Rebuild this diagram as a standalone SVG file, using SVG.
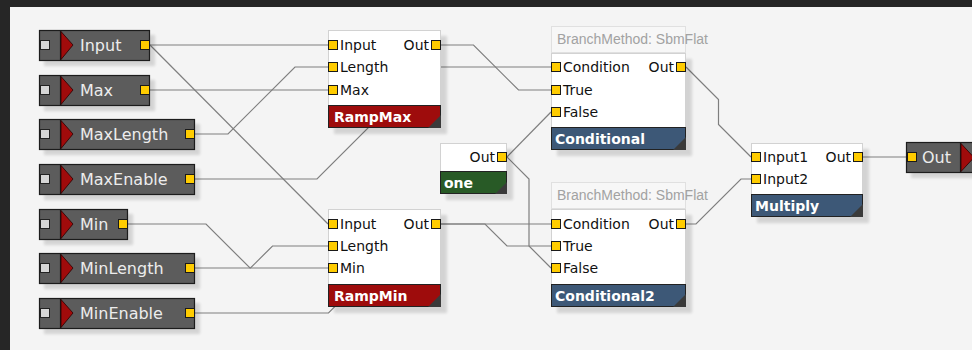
<svg xmlns="http://www.w3.org/2000/svg" width="972" height="350" viewBox="0 0 972 350">
  <style>
    .frame { fill: #262626; }
    .panel { fill: #f4f4f4; }
    .shd { fill: #000; opacity: 0.13; filter: url(#soft); }
    .src { fill: #5c5c5c; stroke: #1c1c1c; stroke-width: 1.2; }
    .inp { fill: #d6d6d6; stroke: #222; stroke-width: 1; }
    .div { stroke: #1c1c1c; stroke-width: 1.2; }
    .tri { fill: #a00b0b; stroke: #2a0000; stroke-width: 0.8; }
    .srcl { font-family: "DejaVu Sans", sans-serif; font-size: 16px; fill: #ececec; }
    .port { fill: #ffcc00; stroke: #1a1a1a; stroke-width: 1; }
    .body { fill: #ffffff; stroke: #d2d2d2; stroke-width: 1; }
    .hdr { fill: #f7f7f7; stroke: #e0e0e0; stroke-width: 1; }
    .hdrl { font-family: "Liberation Sans", Arial, sans-serif; font-size: 14px; fill: #a2a2a2; }
    .pl { font-family: "DejaVu Sans", sans-serif; font-size: 14px; fill: #111; }
    .pr { font-family: "DejaVu Sans", sans-serif; font-size: 14px; fill: #111; text-anchor: end; }
    .ttl { stroke: #222; stroke-width: 1; }
    .red { fill: #9e0c0c; }
    .blue { fill: #3d5877; }
    .green { fill: #285a26; }
    .tl { font-family: "DejaVu Sans", sans-serif; font-weight: bold; font-size: 14px; fill: #ffffff; }
    .grip { fill: #3a3a3a; }
    .wire { fill: none; stroke: #7e7e7e; stroke-width: 1.2; }
  </style>
  <defs>
    <filter id="soft" x="-10%" y="-10%" width="120%" height="130%">
      <feGaussianBlur stdDeviation="1.6"/>
    </filter>
  </defs>

  <!-- canvas -->
  <rect class="frame" x="0" y="0" width="972" height="350"/>
  <rect class="panel" x="10" y="7" width="962" height="343"/>

  <!-- connectors -->
  <g id="connectors">
    <path class="wire" d="M150,45 H328"/>
    <path class="wire" d="M150,45 L328,224"/>
    <path class="wire" d="M150,90 H328"/>
    <path class="wire" d="M195,134 H228 L295,67 H328"/>
    <path class="wire" d="M195,179 H317 L429,67 H551"/>
    <path class="wire" d="M128,224 H206 L250,268 H328"/>
    <path class="wire" d="M195,268 H250.5 L272.5,246 H328"/>
    <path class="wire" d="M195,313 H328.5 L417.5,224 H551"/>
    <path class="wire" d="M441,45 H473.5 L518.5,90 H551"/>
    <path class="wire" d="M441,224 H485 L507,246 H551"/>
    <path class="wire" d="M507,157 L551,112"/>
    <path class="wire" d="M507,157 L529,179 V246 L551,268"/>
    <path class="wire" d="M686,67 L718.5,99.5 V124.5 L751,157"/>
    <path class="wire" d="M686,224 H696 L741,179 H751"/>
    <path class="wire" d="M863,157 H907"/>
  </g>

  <!-- source nodes -->
  <g id="src-input">
    <rect class="shd" x="44" y="35" width="111" height="31"/>
    <rect class="src" x="39.5" y="30.5" width="110" height="30"/>
    <rect class="inp" x="40.5" y="40.5" width="9" height="9"/>
    <line class="div" x1="60.5" y1="30.5" x2="60.5" y2="60.5"/>
    <path class="tri" d="M61,31.5 L73,45 L61,59.5 Z"/>
    <text class="srcl" x="80" y="51">Input</text>
    <rect class="port" x="140.5" y="40.5" width="9" height="9"/>
  </g>
  <g id="src-max">
    <rect class="shd" x="44" y="80" width="111" height="31"/>
    <rect class="src" x="39.5" y="75.5" width="110" height="30"/>
    <rect class="inp" x="40.5" y="85.5" width="9" height="9"/>
    <line class="div" x1="60.5" y1="75.5" x2="60.5" y2="105.5"/>
    <path class="tri" d="M61,76.5 L73,90 L61,104.5 Z"/>
    <text class="srcl" x="80" y="96">Max</text>
    <rect class="port" x="140.5" y="85.5" width="9" height="9"/>
  </g>
  <g id="src-maxlength">
    <rect class="shd" x="44" y="124" width="156" height="31"/>
    <rect class="src" x="39.5" y="119.5" width="155" height="30"/>
    <rect class="inp" x="40.5" y="129.5" width="9" height="9"/>
    <line class="div" x1="60.5" y1="119.5" x2="60.5" y2="149.5"/>
    <path class="tri" d="M61,120.5 L73,134 L61,148.5 Z"/>
    <text class="srcl" x="80" y="140">MaxLength</text>
    <rect class="port" x="185.5" y="129.5" width="9" height="9"/>
  </g>
  <g id="src-maxenable">
    <rect class="shd" x="44" y="169" width="156" height="31"/>
    <rect class="src" x="39.5" y="164.5" width="155" height="30"/>
    <rect class="inp" x="40.5" y="174.5" width="9" height="9"/>
    <line class="div" x1="60.5" y1="164.5" x2="60.5" y2="194.5"/>
    <path class="tri" d="M61,165.5 L73,179 L61,193.5 Z"/>
    <text class="srcl" x="80" y="185">MaxEnable</text>
    <rect class="port" x="185.5" y="174.5" width="9" height="9"/>
  </g>
  <g id="src-min">
    <rect class="shd" x="44" y="214" width="89" height="31"/>
    <rect class="src" x="39.5" y="209.5" width="88" height="30"/>
    <rect class="inp" x="40.5" y="219.5" width="9" height="9"/>
    <line class="div" x1="60.5" y1="209.5" x2="60.5" y2="239.5"/>
    <path class="tri" d="M61,210.5 L73,224 L61,238.5 Z"/>
    <text class="srcl" x="80" y="230">Min</text>
    <rect class="port" x="118.5" y="219.5" width="9" height="9"/>
  </g>
  <g id="src-minlength">
    <rect class="shd" x="44" y="258" width="156" height="31"/>
    <rect class="src" x="39.5" y="253.5" width="155" height="30"/>
    <rect class="inp" x="40.5" y="263.5" width="9" height="9"/>
    <line class="div" x1="60.5" y1="253.5" x2="60.5" y2="283.5"/>
    <path class="tri" d="M61,254.5 L73,268 L61,282.5 Z"/>
    <text class="srcl" x="80" y="274">MinLength</text>
    <rect class="port" x="185.5" y="263.5" width="9" height="9"/>
  </g>
  <g id="src-minenable">
    <rect class="shd" x="44" y="303" width="156" height="31"/>
    <rect class="src" x="39.5" y="298.5" width="155" height="30"/>
    <rect class="inp" x="40.5" y="308.5" width="9" height="9"/>
    <line class="div" x1="60.5" y1="298.5" x2="60.5" y2="328.5"/>
    <path class="tri" d="M61,299.5 L73,313 L61,327.5 Z"/>
    <text class="srcl" x="80" y="319">MinEnable</text>
    <rect class="port" x="185.5" y="308.5" width="9" height="9"/>
  </g>

  <!-- RampMax -->
  <g id="ramp-max">
    <rect class="shd" x="334" y="36" width="113" height="98"/>
    <rect class="body" x="328.5" y="30.5" width="112" height="75"/>
    <rect class="ttl red" x="328.5" y="105.5" width="112" height="22"/>
    <path class="grip" d="M428,128 L441,115 L441,128 Z"/>
    <text class="tl" x="334" y="122">RampMax</text>
    <rect class="port" x="328.5" y="40.5" width="9" height="9"/>
    <rect class="port" x="328.5" y="62.5" width="9" height="9"/>
    <rect class="port" x="328.5" y="85.5" width="9" height="9"/>
    <rect class="port" x="431.5" y="40.5" width="9" height="9"/>
    <text class="pl" x="340" y="50">Input</text>
    <text class="pl" x="340" y="72">Length</text>
    <text class="pl" x="340" y="95">Max</text>
    <text class="pr" x="429" y="50">Out</text>
  </g>

  <!-- RampMin -->
  <g id="ramp-min">
    <rect class="shd" x="334" y="215" width="113" height="98"/>
    <rect class="body" x="328.5" y="209.5" width="112" height="75"/>
    <rect class="ttl red" x="328.5" y="284.5" width="112" height="22"/>
    <path class="grip" d="M428,307 L441,294 L441,307 Z"/>
    <text class="tl" x="334" y="301">RampMin</text>
    <rect class="port" x="328.5" y="219.5" width="9" height="9"/>
    <rect class="port" x="328.5" y="241.5" width="9" height="9"/>
    <rect class="port" x="328.5" y="263.5" width="9" height="9"/>
    <rect class="port" x="431.5" y="219.5" width="9" height="9"/>
    <text class="pl" x="340" y="229">Input</text>
    <text class="pl" x="340" y="251">Length</text>
    <text class="pl" x="340" y="273">Min</text>
    <text class="pr" x="429" y="229">Out</text>
  </g>

  <!-- one -->
  <g id="one">
    <rect class="shd" x="446" y="149" width="67" height="51"/>
    <rect class="body" x="440.5" y="143.5" width="66" height="28"/>
    <rect class="ttl green" x="440.5" y="171.5" width="66" height="22"/>
    <path class="grip" d="M495,194 L507,182 L507,194 Z"/>
    <text class="tl" x="444" y="188">one</text>
    <rect class="port" x="497.5" y="152.5" width="9" height="9"/>
    <text class="pr" x="495" y="162">Out</text>
  </g>

  <!-- Conditional -->
  <g id="conditional">
    <rect class="hdr" x="551.5" y="26.5" width="134" height="26"/>
    <text class="hdrl" x="557" y="44">BranchMethod: SbmFlat</text>
    <rect class="shd" x="557" y="59" width="135" height="97"/>
    <rect class="body" x="551.5" y="53.5" width="134" height="74"/>
    <rect class="ttl blue" x="551.5" y="127.5" width="134" height="22"/>
    <path class="grip" d="M673,150 L686,137 L686,150 Z"/>
    <text class="tl" x="555" y="144">Conditional</text>
    <rect class="port" x="551.5" y="62.5" width="9" height="9"/>
    <rect class="port" x="551.5" y="85.5" width="9" height="9"/>
    <rect class="port" x="551.5" y="107.5" width="9" height="9"/>
    <rect class="port" x="676.5" y="62.5" width="9" height="9"/>
    <text class="pl" x="563" y="72">Condition</text>
    <text class="pl" x="563" y="95">True</text>
    <text class="pl" x="563" y="117">False</text>
    <text class="pr" x="674" y="72">Out</text>
  </g>

  <!-- Conditional2 -->
  <g id="conditional2">
    <rect class="hdr" x="551.5" y="182.5" width="134" height="26"/>
    <text class="hdrl" x="557" y="200">BranchMethod: SbmFlat</text>
    <rect class="shd" x="557" y="215" width="135" height="98"/>
    <rect class="body" x="551.5" y="209.5" width="134" height="75"/>
    <rect class="ttl blue" x="551.5" y="284.5" width="134" height="22"/>
    <path class="grip" d="M673,307 L686,294 L686,307 Z"/>
    <text class="tl" x="555" y="301">Conditional2</text>
    <rect class="port" x="551.5" y="219.5" width="9" height="9"/>
    <rect class="port" x="551.5" y="241.5" width="9" height="9"/>
    <rect class="port" x="551.5" y="263.5" width="9" height="9"/>
    <rect class="port" x="676.5" y="219.5" width="9" height="9"/>
    <text class="pl" x="563" y="229">Condition</text>
    <text class="pl" x="563" y="251">True</text>
    <text class="pl" x="563" y="273">False</text>
    <text class="pr" x="674" y="229">Out</text>
  </g>

  <!-- Multiply -->
  <g id="multiply">
    <rect class="shd" x="757" y="149" width="112" height="74"/>
    <rect class="body" x="751.5" y="143.5" width="111" height="51"/>
    <rect class="ttl blue" x="751.5" y="194.5" width="111" height="22"/>
    <path class="grip" d="M850,217 L863,204 L863,217 Z"/>
    <text class="tl" x="755" y="211">Multiply</text>
    <rect class="port" x="751.5" y="152.5" width="9" height="9"/>
    <rect class="port" x="751.5" y="174.5" width="9" height="9"/>
    <rect class="port" x="853.5" y="152.5" width="9" height="9"/>
    <text class="pl" x="763" y="162">Input1</text>
    <text class="pl" x="763" y="184">Input2</text>
    <text class="pr" x="851" y="162">Out</text>
  </g>

  <!-- output node -->
  <g id="out">
    <rect class="shd" x="911" y="147" width="70" height="31"/>
    <rect class="src" x="906.5" y="142.5" width="80" height="30"/>
    <rect class="port" x="907.5" y="152.5" width="9" height="9"/>
    <text class="srcl" x="922" y="163">Out</text>
    <line class="div" x1="960.5" y1="142.5" x2="960.5" y2="172.5"/>
    <path class="tri" d="M961,143.5 L974,157.5 L961,171.5 Z"/>
  </g>
</svg>
